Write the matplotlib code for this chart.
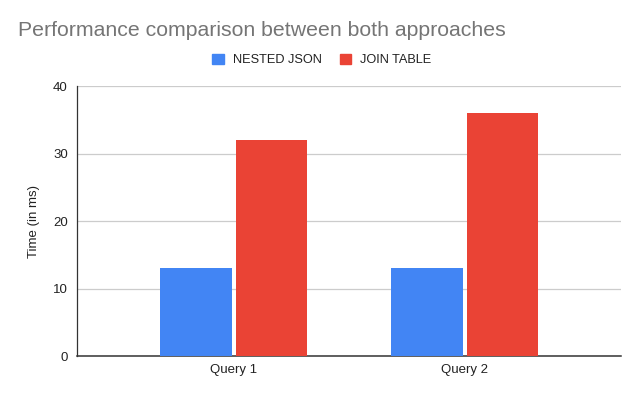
import numpy as np
import matplotlib
matplotlib.use('Agg')
import matplotlib.pyplot as plt
from matplotlib.patches import Patch

plt.rcParams['font.family'] = ['Liberation Sans', 'DejaVu Sans']

# data
queries = ['Query 1', 'Query 2']
series_names = ['NESTED JSON', 'JOIN TABLE']
nested_json = [13, 13]
join_table = [32, 36]
colors = ['#4285F4', '#EA4335']

fig = plt.figure(figsize=(6.4, 3.95), dpi=100)
ax = fig.add_axes([0.121, 0.0987, 0.849, 0.683])

x = np.arange(len(queries))
w = 0.31
ax.bar(x - 0.163, nested_json, w, color=colors[0], zorder=3)
ax.bar(x + 0.163, join_table, w, color=colors[1], zorder=3)

ax.set_xlim(-0.677, 1.675)
ax.set_ylim(0, 40)
ax.set_yticks([0, 10, 20, 30, 40])
ax.set_xticks(x)
ax.set_xticklabels(queries)
ax.tick_params(length=0, labelsize=9.5, colors='#222222', pad=6)
ax.tick_params(axis='y', pad=7)
ax.grid(axis='y', color='#cccccc', linewidth=0.9, zorder=0)
for s in ['top', 'right']:
    ax.spines[s].set_visible(False)
ax.spines['left'].set_color('#333333')
ax.spines['bottom'].set_color('#333333')
ax.spines['left'].set_linewidth(0.9)
ax.spines['bottom'].set_linewidth(1.1)
ax.set_ylabel('Time (in ms)', fontsize=9.5, color='#222222', labelpad=9)

fig.text(18 / 640, 1 - 31 / 395, 'Performance comparison between both approaches',
         fontsize=15.3, color='#757575', va='center', ha='left')

handles = [Patch(facecolor=c, edgecolor=c) for c in colors]
fig.legend(handles, series_names, loc='center', bbox_to_anchor=(0.503, 1 - 60 / 395),
           ncol=2, frameon=False, fontsize=9.2, handlelength=0.9, handleheight=0.9,
           handletextpad=0.7, columnspacing=1.4, labelcolor='#222222')

fig.savefig('out.png', dpi=100)
